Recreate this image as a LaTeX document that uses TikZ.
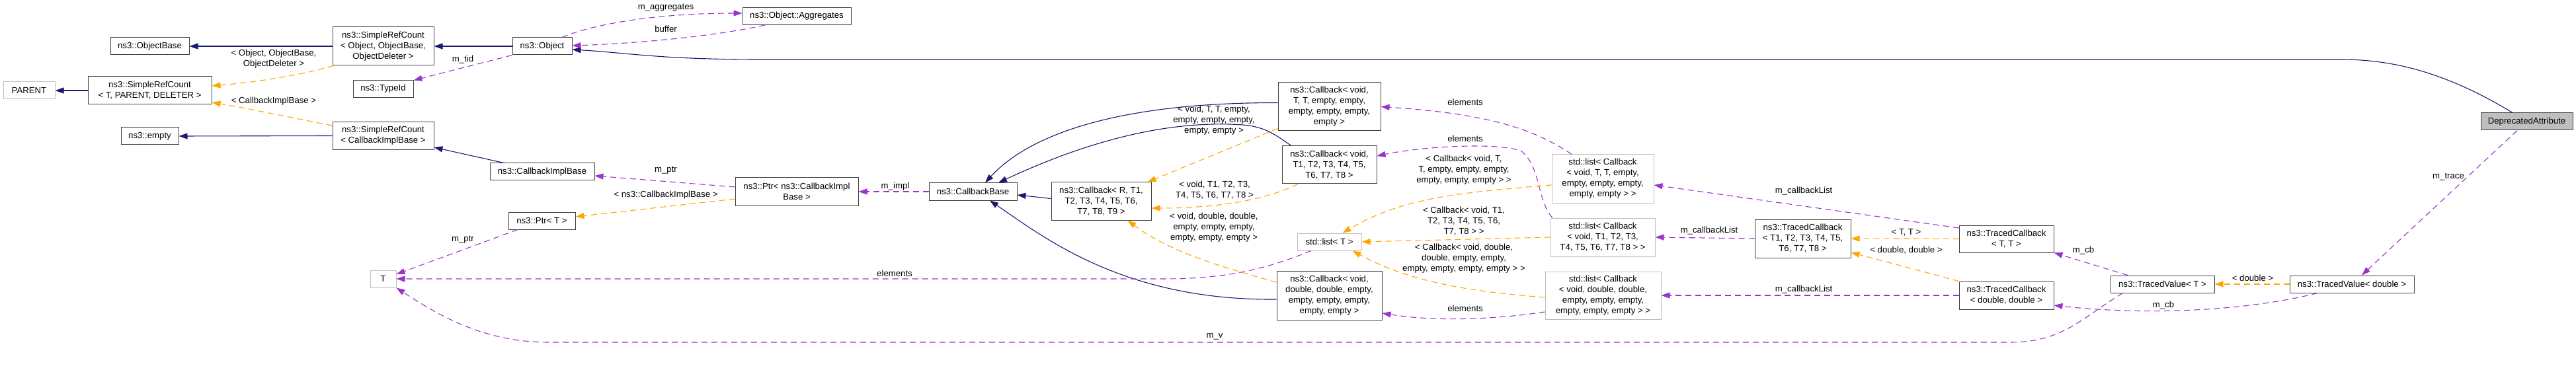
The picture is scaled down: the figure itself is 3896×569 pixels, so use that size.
\documentclass[tikz,border=0pt]{standalone}
\usepackage{fontspec}
\setmainfont{Liberation Sans}
\usetikzlibrary{arrows.meta}
\definecolor{inhc}{HTML}{191970}
\definecolor{usec}{HTML}{9A32CD}
\definecolor{tplc}{HTML}{FFA500}
\definecolor{boxc}{HTML}{404040}
\definecolor{grayc}{HTML}{BFBFBF}
\begin{document}
\begin{tikzpicture}[x=1pt,y=-1pt,
  font=\fontsize{13.2}{16}\selectfont,
  cls/.style={draw=boxc, line width=1pt, inner sep=0pt, align=center, fill=white},
  ext/.style={draw=grayc, line width=1pt, inner sep=0pt, align=center, fill=white},
  sz/.style 2 args={minimum width=#1pt, minimum height=#2pt},
  tip/.style={-{Triangle[length=13pt,width=9pt]}},
  inh/.style={color=inhc, line width=1.1pt, tip},
  use/.style={color=usec, line width=1.1pt, dash pattern=on 9pt off 6pt, tip},
  tpl/.style={color=tplc, line width=1.1pt, dash pattern=on 9pt off 6pt, tip},
  lbl/.style={inner sep=0pt, align=center}
]
\useasboundingbox (0,0) rectangle (3896,569);
% nodes
\node[cls, sz={119}{26}] (objbase) at (226.5,70) {ns3::ObjectBase};
\node[ext, sz={78}{26}] (parent) at (44,137) {PARENT};
\node[cls, sz={187}{42}] (srctpd) at (226.5,137) {ns3::SimpleRefCount\\< T, PARENT, DELETER >};
\node[cls, sz={87}{26}] (emptyn) at (226.5,206) {ns3::empty};
\node[cls, sz={153}{58}] (srcood) at (579.5,70) {ns3::SimpleRefCount\\< Object, ObjectBase,\\ObjectDeleter >};
\node[cls, sz={91}{26}] (typeid) at (579.5,134.5) {ns3::TypeId};
\node[cls, sz={153}{42}] (srccib) at (579.5,205.5) {ns3::SimpleRefCount\\< CallbackImplBase >};
\node[ext, sz={39}{26}] (tnode) at (579.5,422) {T};
\node[cls, sz={90}{26}] (object) at (820,70) {ns3::Object};
\node[cls, sz={158}{26}] (cib) at (820,260) {ns3::CallbackImplBase};
\node[cls, sz={101}{26}] (ptrt) at (819.5,334) {ns3::Ptr< T >};
\node[cls, sz={164}{26}] (aggr) at (1205,24.5) {ns3::Object::Aggregates};
\node[cls, sz={186}{42}] (ptrcib) at (1205,290) {ns3::Ptr< ns3::CallbackImpl\\Base >};
\node[cls, sz={133}{26}] (cbase) at (1471.5,290) {ns3::CallbackBase};
\node[cls, sz={151}{57}] (cbr) at (1665.5,304.5) {ns3::Callback< R, T1,\\T2, T3, T4, T5, T6,\\T7, T8, T9 >};
\node[cls, sz={155}{73}] (cbtt) at (2010.5,161.5) {ns3::Callback< void,\\T, T, empty, empty,\\empty, empty, empty,\\empty >};
\node[cls, sz={143}{57}] (cbt1) at (2010.5,249.5) {ns3::Callback< void,\\T1, T2, T3, T4, T5,\\T6, T7, T8 >};
\node[ext, sz={97}{26}] (listt) at (2010.5,366) {std::list< T >};
\node[cls, sz={159}{74}] (cbdd) at (2010.5,447) {ns3::Callback< void,\\double, double, empty,\\empty, empty, empty,\\empty, empty >};
\node[ext, sz={154}{73}] (listtt) at (2424,270.5) {std::list< Callback\\< void, T, T, empty,\\empty, empty, empty,\\empty, empty > >};
\node[ext, sz={158}{58}] (listt1) at (2424,359) {std::list< Callback\\< void, T1, T2, T3,\\T4, T5, T6, T7, T8 > >};
\node[ext, sz={175}{72}] (listdd) at (2424.5,447) {std::list< Callback\\< void, double, double,\\empty, empty, empty,\\empty, empty, empty > >};
\node[cls, sz={145}{58}] (tct1) at (2726.5,361) {ns3::TracedCallback\\< T1, T2, T3, T4, T5,\\T6, T7, T8 >};
\node[cls, sz={143}{41}] (tctt) at (3034.5,361.5) {ns3::TracedCallback\\< T, T >};
\node[cls, sz={143}{42}] (tcdd) at (3034.5,447) {ns3::TracedCallback\\< double, double >};
\node[cls, sz={157}{26}] (tvt) at (3270.5,430) {ns3::TracedValue< T >};
\node[cls, sz={188}{26}] (tvd) at (3557,430) {ns3::TracedValue< double >};
\node[cls, sz={139}{26}, fill=grayc] (depr) at (3821.5,184) {DeprecatedAttribute};
% edge labels
\node[lbl] (l1) at (414,89.5) {< Object, ObjectBase,\\ObjectDeleter >};
\node[lbl] (l2) at (414,153) {< CallbackImplBase >};
\node[lbl] (l3) at (700,90) {m\_tid};
\node[lbl] (l4) at (1007,12) {m\_aggregates};
\node[lbl] (l5) at (1007,44) {buffer};
\node[lbl] (l6) at (700,363) {m\_ptr};
\node[lbl] (l7) at (1007,258) {m\_ptr};
\node[lbl] (l8) at (1007,295) {< ns3::CallbackImplBase >};
\node[lbl] (l9) at (1354,282) {m\_impl};
\node[lbl] (l10) at (1353,414) {elements};
\node[lbl] (l11) at (1837,509) {m\_v};
\node[lbl] (l12) at (1836,182) {< void, T, T, empty,\\empty, empty, empty,\\empty, empty >};
\node[lbl] (l13) at (1837,288) {< void, T1, T2, T3,\\T4, T5, T6, T7, T8 >};
\node[lbl] (l14) at (1836,344) {< void, double, double,\\empty, empty, empty,\\empty, empty, empty >};
\node[lbl] (l15) at (2216,155) {elements};
\node[lbl] (l16) at (2216,210) {elements};
\node[lbl] (l17) at (2216,467) {elements};
\node[lbl] (l18) at (2214,257) {< Callback< void, T,\\T, empty, empty, empty,\\empty, empty, empty > >};
\node[lbl] (l19) at (2214,335) {< Callback< void, T1,\\T2, T3, T4, T5, T6,\\T7, T8 > >};
\node[lbl] (l20) at (2214,391) {< Callback< void, double,\\double, empty, empty,\\empty, empty, empty, empty > >};
\node[lbl] (l21) at (2728,289) {m\_callbackList};
\node[lbl] (l22) at (2585,349) {m\_callbackList};
\node[lbl] (l23) at (2728,438) {m\_callbackList};
\node[lbl] (l24) at (2883,352) {< T, T >};
\node[lbl] (l25) at (2883,379) {< double, double >};
\node[lbl] (l26) at (3151,379) {m\_cb};
\node[lbl] (l27) at (3272,462) {m\_cb};
\node[lbl] (l28) at (3407,421) {< double >};
\node[lbl] (l29) at (3703,268) {m\_trace};
% inheritance edges
\draw[inh] (srcood.west) -- (objbase.east);
\draw[inh] (srctpd.west) -- (parent.east);
\draw[inh] (srccib.west) -- (emptyn.east);
\draw[inh] (object.west) -- (srcood.east);
\draw[inh] ([xshift=-58pt]cib.north) -- ([yshift=4pt]srccib.south east);
\draw[inh] ([yshift=4pt]cbr.west) -- ([yshift=-5pt]cbase.east);
\draw[inh] ([yshift=6pt]cbtt.west) .. controls (1700,155) and (1560,200) .. ([xshift=18.5pt]cbase.north);
\draw[inh] ([xshift=-57.5pt]cbt1.north) .. controls (1930,205) and (1915,192) .. (1880,189) .. controls (1750,180) and (1620,225) .. ([xshift=38.5pt]cbase.north);
\draw[inh] ([yshift=-6pt]cbdd.west) .. controls (1700,455) and (1580,360) .. ([xshift=25.5pt]cbase.south);
\draw[inh] ([xshift=-21.5pt]depr.north) .. controls (3700,110) and (3620,90) .. (3540,90) -- (1150,90) .. controls (1000,90) and (950,80) .. ([yshift=-5pt]object.east);
% usage edges
\draw[use] ([xshift=30pt]object.north) .. controls (900,35) and (1000,20) .. ([yshift=4.5pt]aggr.west);
\draw[use] ([xshift=-48pt]aggr.south) .. controls (1080,55) and (960,66) .. ([yshift=1pt]object.east);
\draw[use] (object.south west) -- ([yshift=13pt]typeid.east);
\draw[use] ([yshift=7pt]ptrcib.west) -- ([yshift=-6pt]cib.east);
\draw[use] ([xshift=-36.5pt]ptrt.south) -- ([yshift=7pt]tnode.east);
\draw[use] (cbase.west) -- (ptrcib.east);
\draw[use] ([xshift=-27.5pt]listt.south) .. controls (1920,405) and (1860,422) .. (1760,422) -- (tnode.east);
\draw[use] ([xshift=-60pt]tvt.south) .. controls (3150,480) and (3120,518) .. (3040,518) -- (830,518) .. controls (730,518) and (660,475) .. (tnode.south east);
\draw[use] ([xshift=-47pt]listtt.north) .. controls (2320,195) and (2250,172) .. (cbtt.east);
\draw[use] ([xshift=-76pt]listt1.north) .. controls (2325,305) and (2330,250) .. (2300,228) .. controls (2260,215) and (2150,222) .. ([yshift=13.5pt]cbt1.east);
\draw[use] ([yshift=-25pt]listdd.west) .. controls (2270,482) and (2180,488) .. ([yshift=-27pt]cbdd.east);
\draw[use] ([yshift=16.5pt]tctt.west) -- ([yshift=-9.5pt]listtt.east);
\draw[use] (tct1.west) -- (listt1.east);
\draw[use] (tcdd.west) -- (listdd.east);
\draw[use] ([xshift=-52.5pt]tvt.north) -- (tctt.south east);
\draw[use] ([xshift=-52pt]tvd.south) .. controls (3400,470) and (3250,478) .. ([yshift=-15pt]tcdd.east);
\draw[use] ([xshift=-14.5pt]depr.south) -- ([xshift=15pt]tvd.north);
% template edges
\draw[tpl] ([xshift=2pt]srcood.south west) .. controls (450,115) and (380,125) .. ([yshift=7pt]srctpd.east);
\draw[tpl] ([yshift=15.5pt]srccib.west) .. controls (440,178) and (380,165) .. ([yshift=-18pt]srctpd.east);
\draw[tpl] ([yshift=-11pt]ptrcib.west) -- ([yshift=6pt]ptrt.east);
\draw[tpl] ([yshift=-33pt]cbtt.west) -- ([xshift=-6pt]cbr.north east);
\draw[tpl] ([xshift=-47.5pt]cbt1.south) .. controls (1920,300) and (1850,315) .. ([yshift=-10.5pt]cbr.east);
\draw[tpl] ([yshift=20pt]cbdd.west) .. controls (1830,400) and (1760,375) .. ([xshift=40pt]cbr.south);
\draw[tpl] ([yshift=-9.5pt]listtt.west) .. controls (2200,292) and (2120,300) .. ([xshift=20pt]listt.north);
\draw[tpl] (listt1.west) -- (listt.east);
\draw[tpl] ([yshift=-3pt]listdd.west) .. controls (2200,440) and (2120,420) .. ([xshift=35pt]listt.south);
\draw[tpl] (tctt.west) -- (tct1.east);
\draw[tpl] (tcdd.north west) -- ([yshift=-21pt]tct1.east);
\draw[tpl] (tvd.west) -- (tvt.east);
\end{tikzpicture}
\end{document}
